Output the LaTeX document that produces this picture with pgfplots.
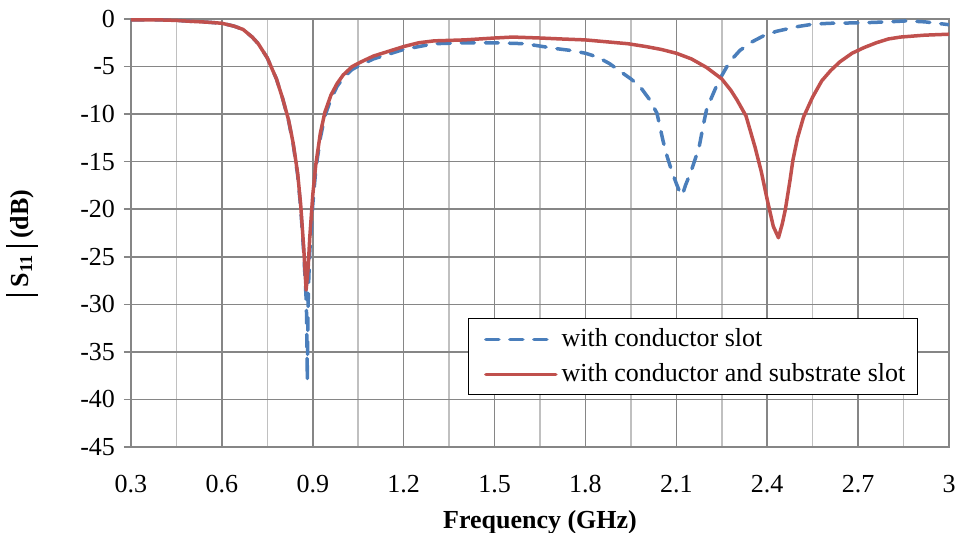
\documentclass[border=0pt]{standalone}
\usepackage{fontspec}
\setmainfont{Liberation Serif}
\usepackage{pgfplots}
\pgfplotsset{compat=1.18}
\definecolor{gridDark}{RGB}{134,134,134}
\definecolor{gridLight}{RGB}{192,192,192}
\definecolor{cBlue}{RGB}{74,126,187}
\definecolor{cRed}{RGB}{192,80,77}
\newcommand{\absbar}{\rule[-0.35em]{0.07em}{1.2em}}
\begin{document}
\begin{tikzpicture}
\begin{axis}[
  scale only axis,
  width=409pt, height=214pt,
  xmin=0.3, xmax=3, ymin=-45, ymax=0,
  font=\fontsize{13}{15.6}\selectfont,
  xtick={0.3,0.6,0.9,1.2,1.5,1.8,2.1,2.4,2.7,3},
  xticklabels={0.3,0.6,0.9,1.2,1.5,1.8,2.1,2.4,2.7,3},
  minor xtick={0.45,0.75,1.05,1.35,1.65,1.95,2.25,2.55,2.85},
  ytick={-45,-40,-35,-30,-25,-20,-15,-10,-5,0},
  yticklabels={-45,-40,-35,-30,-25,-20,-15,-10,-5,0},
  grid=both,
  major grid style={color=gridDark, line width=0.75pt},
  minor grid style={color=gridLight, line width=0.75pt},
  axis line style={color=gridDark, line width=0.75pt},
  xtick style={draw=none},
  minor tick style={draw=none},
  ytick pos=left,
  ytick style={color=gridDark, line width=0.75pt},
  tick align=outside,
  major tick length=3.5pt,
  xticklabel style={yshift=-7pt},
  yticklabel style={xshift=-1pt},
  xlabel={\textbf{Frequency (GHz)}},
  xlabel style={yshift=-2pt},
  ylabel={\textbf{\absbar\;S\textsubscript{11}\;\absbar\ (dB)}},
  ylabel style={at={(rel axis cs:0,0.5)}, anchor=center, yshift=54.5pt, xshift=-5pt},
  legend style={at={(rel axis cs:0.962,0.301)}, anchor=north east,
    draw=black, line width=0.6pt, fill=white, font=\fontsize{13}{15.6}\selectfont,
    inner xsep=4pt, inner ysep=3pt, row sep=3pt},
  legend cell align=left,
  legend image code/.code={\path (-4pt,0pt); \draw[#1] (0pt,0pt) -- (35pt,0pt);},
]
\addplot[cBlue, line width=1.75pt, dash pattern=on 6.5pt off 5.5pt, line cap=round, line join=round] coordinates {
(0.30,-0.10) (0.35,-0.08) (0.40,-0.10) (0.45,-0.15) (0.50,-0.25) (0.55,-0.33)
(0.60,-0.45) (0.64,-0.75) (0.67,-1.1) (0.70,-1.9) (0.72,-2.6) (0.75,-4.1)
(0.78,-6.3) (0.80,-8.3) (0.82,-10.7) (0.835,-13.1) (0.85,-16.4) (0.86,-19.8)
(0.87,-24.5) (0.875,-27.5) (0.879,-30) (0.880,-33) (0.881,-35) (0.882,-38)
(0.883,-34) (0.884,-31) (0.886,-28) (0.89,-24.5) (0.90,-19.5) (0.91,-15.8)
(0.925,-12.5) (0.94,-10.2) (0.96,-8.4) (0.98,-7.1) (1.00,-6.2) (1.03,-5.3)
(1.06,-4.8) (1.10,-4.2) (1.15,-3.7) (1.20,-3.2) (1.25,-2.9) (1.30,-2.6)
(1.40,-2.5) (1.50,-2.5) (1.60,-2.6) (1.65,-2.85) (1.70,-3.1) (1.75,-3.3)
(1.80,-3.6) (1.84,-4.0) (1.88,-4.7) (1.91,-5.4) (1.95,-6.3) (1.98,-7.1)
(2.01,-8.4) (2.036,-9.9) (2.056,-12.8) (2.07,-14.5) (2.085,-16) (2.10,-17.3)
(2.115,-18.5) (2.12,-18.5) (2.13,-17.5) (2.15,-15.9) (2.175,-13.5) (2.19,-11)
(2.20,-9.5) (2.217,-8.2) (2.24,-6.5) (2.267,-5.0) (2.29,-4.0) (2.31,-3.3)
(2.35,-2.4) (2.386,-1.8) (2.43,-1.3) (2.50,-0.8) (2.55,-0.55) (2.607,-0.45)
(2.716,-0.4) (2.80,-0.3) (2.86,-0.2) (2.92,-0.3) (2.96,-0.45) (3.00,-0.6)
};
\addlegendentry{with conductor slot}
\addplot[cRed, line width=1.75pt, line cap=round, line join=round] coordinates {
(0.30,-0.10) (0.35,-0.08) (0.40,-0.10) (0.45,-0.15) (0.50,-0.25) (0.55,-0.33)
(0.60,-0.45) (0.64,-0.75) (0.67,-1.1) (0.70,-1.9) (0.72,-2.6) (0.75,-4.1)
(0.78,-6.3) (0.80,-8.3) (0.82,-10.6) (0.835,-13) (0.85,-16.2) (0.86,-19.5)
(0.87,-24) (0.878,-28.5) (0.885,-26) (0.89,-23) (0.90,-18.5) (0.91,-15.3)
(0.925,-12) (0.94,-9.8) (0.96,-8.0) (0.98,-6.8) (1.00,-5.9) (1.03,-5.0)
(1.06,-4.5) (1.10,-3.9) (1.15,-3.4) (1.20,-2.9) (1.25,-2.5) (1.30,-2.3)
(1.40,-2.2) (1.50,-2.0) (1.56,-1.9) (1.65,-2.0) (1.72,-2.1) (1.80,-2.2)
(1.87,-2.4) (1.94,-2.6) (2.00,-2.9) (2.05,-3.2) (2.10,-3.6) (2.15,-4.2)
(2.20,-5.1) (2.25,-6.3) (2.28,-7.5) (2.30,-8.5) (2.33,-10.2) (2.36,-13.5)
(2.38,-16) (2.40,-19) (2.42,-21.8) (2.437,-23.0) (2.45,-21.5) (2.46,-20)
(2.475,-17) (2.485,-14.8) (2.50,-12.5) (2.52,-10.3) (2.55,-8.2) (2.58,-6.5)
(2.61,-5.4) (2.64,-4.5) (2.68,-3.6) (2.72,-3.0) (2.76,-2.5) (2.80,-2.1)
(2.84,-1.9) (2.88,-1.8) (2.92,-1.7) (2.96,-1.65) (3.00,-1.6)
};
\addlegendentry{with conductor and substrate slot}
\end{axis}
\pgfresetboundingbox
\path[use as bounding box] ([shift={(-65.5pt,-43pt)}]current axis.south west) rectangle ([shift={(5.5pt,9.5pt)}]current axis.north east);
\end{tikzpicture}
\end{document}
